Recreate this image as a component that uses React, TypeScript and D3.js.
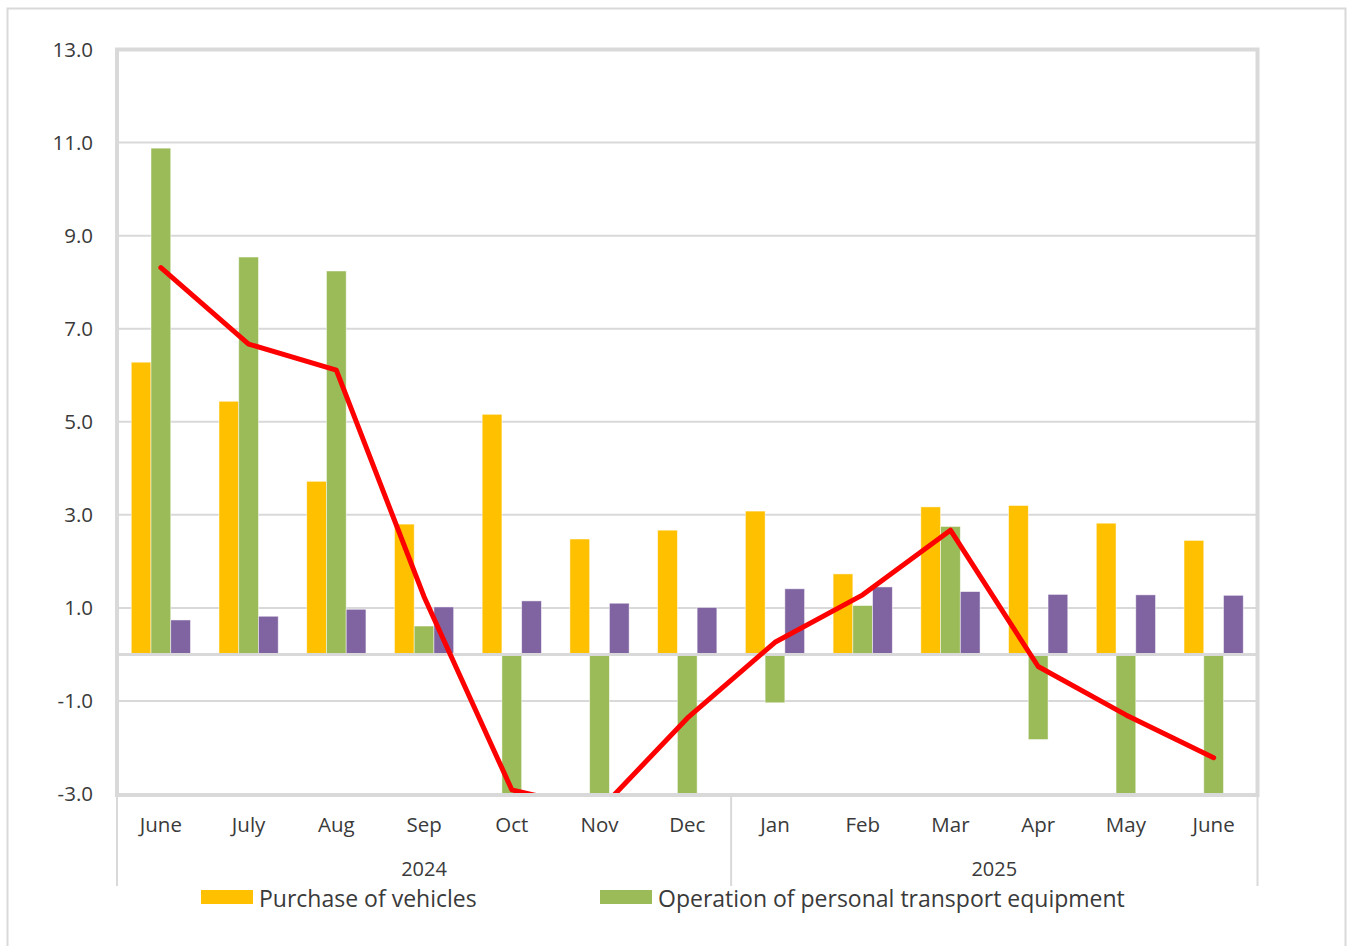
import React from "react";
import * as d3 from "d3";

// Monthly series (percent change), June 2024 – June 2025
const months = ["June", "July", "Aug", "Sep", "Oct", "Nov", "Dec", "Jan", "Feb", "Mar", "Apr", "May", "June"];
const years = [
  { label: "2024", from: 0, to: 7 },
  { label: "2025", from: 7, to: 13 },
];
const purchaseOfVehicles = [6.28, 5.44, 3.72, 2.8, 5.16, 2.48, 2.67, 3.08, 1.73, 3.17, 3.2, 2.82, 2.45];
const operationOfEquipment = [10.88, 8.54, 8.24, 0.61, -4.6, -5.1, -4.1, -1.04, 1.05, 2.75, -1.83, -3.8, -4.3];
const transportServices = [0.74, 0.82, 0.97, 1.02, 1.15, 1.1, 1.01, 1.41, 1.45, 1.35, 1.29, 1.28, 1.27];
const transportTotal = [8.31, 6.67, 6.11, 1.24, -2.91, -3.35, -1.37, 0.26, 1.28, 2.67, -0.26, -1.3, -2.22];
const yTicks = [13, 11, 9, 7, 5, 3, 1, -1, -3];

const barSeries = [
  { name: "Purchase of vehicles", values: purchaseOfVehicles, color: "#FFC000" },
  { name: "Operation of personal transport equipment", values: operationOfEquipment, color: "#9BBB59" },
  { name: "Transport services", values: transportServices, color: "#8064A2" },
];

const FONT = "'Open Sans', 'Noto Sans', sans-serif";
const TEXT = "#3a3a3a";
const GRID = "#d9d9d9";

export default function App() {
  const W = 1352;
  const H = 946;
  const left = 117;
  const right = 1257.5;
  const top = 49.5;
  const bottom = 794;

  const x = d3.scaleBand<number>().domain(d3.range(months.length)).range([left, right]).paddingInner(0).paddingOuter(0);
  const y = d3.scaleLinear().domain([-3, 13]).range([bottom, top]);
  const groupWidth = x.bandwidth() * 0.675;
  const sub = d3
    .scaleBand<number>()
    .domain(d3.range(barSeries.length))
    .range([0, groupWidth])
    .padding(0);

  const line = d3
    .line<number>()
    .x((_, i) => (x(i) as number) + x.bandwidth() / 2)
    .y((v) => y(v));

  return (
    <svg width={W} height={H} style={{ display: "block", position: "absolute", left: 0, top: 0 }}>
      <defs>
        <clipPath id="plot-clip">
          <rect x={left} y={top} width={right - left} height={bottom - top + 2} />
        </clipPath>
      </defs>
      <rect x={0} y={0} width={W} height={H} fill="#fff" />
      {/* outer chart frame */}
      <rect x={7.5} y={8.5} width={1338} height={960} fill="none" stroke={GRID} strokeWidth={2} />

      {/* gridlines */}
      {yTicks.map((t) => (
        <line key={t} x1={left} x2={right} y1={y(t)} y2={y(t)} stroke={GRID} strokeWidth={2} />
      ))}

      {/* bars */}
      <g clipPath="url(#plot-clip)">
        {barSeries.map((s, si) =>
          s.values.map((v, i) => {
            const bx = (x(i) as number) + (x.bandwidth() - groupWidth) / 2 + (sub(si) as number);
            const y0 = y(0);
            const y1 = y(v);
            return (
              <rect
                key={`${si}-${i}`}
                x={bx}
                y={Math.min(y0, y1)}
                width={sub.bandwidth()}
                height={Math.abs(y1 - y0)}
                fill={s.color}
                stroke="#ffffff"
                strokeOpacity={0.6}
                strokeWidth={0.8}
              />
            );
          })
        )}
      </g>

      {/* zero line */}
      <line x1={left} x2={right} y1={y(0)} y2={y(0)} stroke={GRID} strokeWidth={3} />

      {/* total line */}
      <g clipPath="url(#plot-clip)">
        <path
          d={line(transportTotal) || ""}
          fill="none"
          stroke="#FF0000"
          strokeWidth={5}
          strokeLinejoin="round"
          strokeLinecap="round"
        />
      </g>

      {/* plot frame */}
      <rect x={left} y={top} width={right - left} height={bottom - top + 1} fill="none" stroke={GRID} strokeWidth={4} />

      {/* y tick labels */}
      {yTicks.map((t) => (
        <text
          key={t}
          x={93}
          y={y(t)}
          dy="0.35em"
          textAnchor="end"
          fontFamily={FONT}
          fontSize={20.5}
          fill={TEXT}
        >
          {t.toFixed(1)}
        </text>
      ))}

      {/* category dividers */}
      {[0, 7, 13].map((k) => {
        const xx = k === 13 ? right : (x(k) as number);
        return <line key={k} x1={xx} x2={xx} y1={bottom + 2} y2={886} stroke={GRID} strokeWidth={2} />;
      })}

      {/* month labels */}
      {months.map((m, i) => (
        <text
          key={i}
          x={(x(i) as number) + x.bandwidth() / 2}
          y={832}
          textAnchor="middle"
          fontFamily={FONT}
          fontSize={20.5}
          fill={TEXT}
        >
          {m}
        </text>
      ))}

      {/* year labels */}
      {years.map((yr) => {
        const a = x(yr.from) as number;
        const b = yr.to >= months.length ? right : (x(yr.to) as number);
        return (
          <text key={yr.label} x={(a + b) / 2} y={876} textAnchor="middle" fontFamily={FONT} fontSize={20} fill={TEXT}>
            {yr.label}
          </text>
        );
      })}

      {/* legend */}
      <rect x={150} y={887} width={1050} height={40} fill="#fff" />
      {[
        { s: barSeries[0], sx: 201 },
        { s: barSeries[1], sx: 600 },
      ].map(({ s, sx }) => (
        <g key={s.name}>
          <rect x={sx} y={890} width={52} height={14} fill={s.color} />
          <text x={sx + 58} y={906.5} fontFamily={FONT} fontSize={23} fill={TEXT}>
            {s.name}
          </text>
        </g>
      ))}
    </svg>
  );
}
